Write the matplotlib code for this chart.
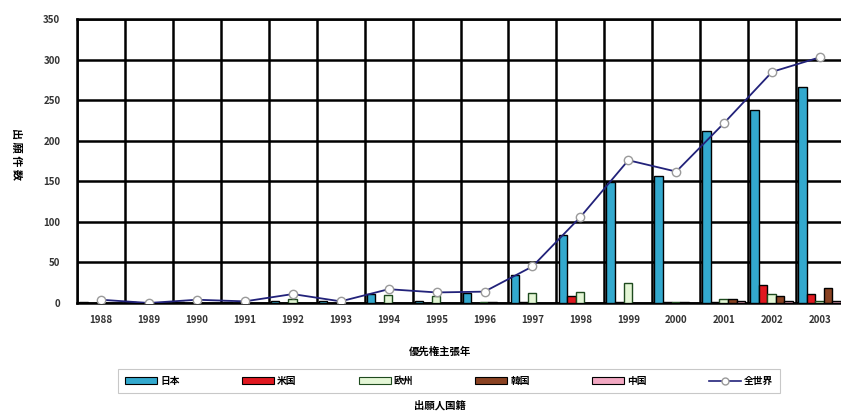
import numpy as np
import matplotlib
matplotlib.use('Agg')
import matplotlib.pyplot as plt
from matplotlib.lines import Line2D
from matplotlib.patches import Patch

plt.rcParams['font.family'] = ['Noto Sans CJK JP', 'DejaVu Sans']

# データ
years = ['1988', '1989', '1990', '1991', '1992', '1993', '1994', '1995',
         '1996', '1997', '1998', '1999', '2000', '2001', '2002', '2003']
japan = [1, 1, 1, 1, 2, 3, 11, 3, 12, 34, 84, 149, 156, 212, 238, 266]
usa = [0, 0, 0, 0, 0, 0, 0, 0, 0, 1, 8, 1, 1, 1, 22, 11]
europe = [0, 0, 0, 0, 5, 0, 10, 8, 1, 12, 14, 25, 1, 5, 11, 3]
korea = [0, 0, 0, 0, 0, 0, 0, 0, 1, 0, 0, 0, 1, 5, 8, 19]
china = [0, 0, 0, 0, 0, 0, 0, 0, 0, 0, 0, 0, 0, 2, 2, 2]
world = [4, 0, 4, 2, 11, 2, 17, 13, 14, 45, 106, 176, 162, 222, 285, 303]

series = [('日本', japan, '#33A9CE', 'black'),
          ('米国', usa, '#E01820', 'black'),
          ('欧州', europe, '#E4F6D6', '#1E4A1E'),
          ('韓国', korea, '#8A4222', 'black'),
          ('中国', china, '#F2A8C2', 'black')]

fig = plt.figure(figsize=(8.41, 4.12), dpi=100)
ax = fig.add_axes([0.0916, 0.2646, 0.912, 0.689])

x = np.arange(len(years))
w = 0.178
for j, (name, vals, fc, ec) in enumerate(series):
    ax.bar(x - 0.5 + 0.045 + j * w, vals, width=w, align='edge',
           color=fc, edgecolor=ec, linewidth=1.0, zorder=3)

ax.plot(x, world, color='#22227A', lw=1.3, marker='o', ms=6,
        mfc='white', mec='#9A9A9A', mew=1.0, zorder=4)

ax.set_xlim(-0.5, 15.5)
ax.set_ylim(0, 350)
ax.set_yticks(range(0, 351, 50))
ax.set_xticks(x)
ax.set_xticklabels(years)
ax.set_xticks(np.arange(-0.5, 16, 1), minor=True)
ax.tick_params(axis='both', which='both', length=0, labelsize=7)
ax.tick_params(axis='x', pad=9)
ax.tick_params(axis='y', pad=12)
for lab in ax.get_xticklabels() + ax.get_yticklabels():
    lab.set_fontweight('bold')
    lab.set_color('#333333')

ax.grid(axis='y', which='major', color='black', lw=1.8, zorder=1)
ax.grid(axis='x', which='minor', color='black', lw=1.8, zorder=1)
for s in ax.spines.values():
    s.set_linewidth(1.8)
    s.set_color('black')

fig.text(0.020, 0.625, '出 願 件 数', rotation=-90, ha='center', va='center',
         fontsize=8, fontweight='bold')
fig.text(0.523, 0.146, '優先権主張年', ha='center', va='center',
         fontsize=7.5, fontweight='bold')
fig.text(0.523, 0.017, '出願人国籍', ha='center', va='center',
         fontsize=7.5, fontweight='bold')

handles = [Patch(facecolor=fc, edgecolor=ec, lw=0.8) for _, _, fc, ec in series]
handles.append(Line2D([], [], color='#22227A', lw=1.2, marker='o', ms=5,
                      mfc='white', mec='#9A9A9A'))
labels = [s[0] for s in series] + ['全世界']
leg = fig.legend(handles, labels, loc='center', bbox_to_anchor=(0.534, 0.075),
                 ncol=6, fontsize=7, frameon=True, fancybox=False,
                 edgecolor='#BBBBBB', handlelength=3.3, handleheight=0.7,
                 columnspacing=6.4, handletextpad=0.3, borderpad=0.7)
leg.get_frame().set_linewidth(0.8)
for t in leg.get_texts():
    t.set_fontweight('bold')

fig.savefig('out.png', dpi=100)
